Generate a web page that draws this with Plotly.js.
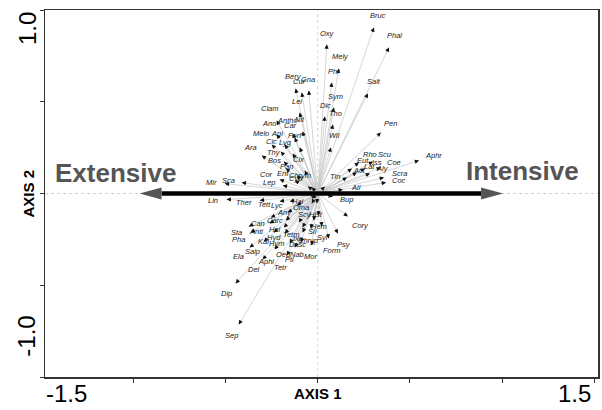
<!DOCTYPE html>
<html><head><meta charset="utf-8">
<script src="https://cdn.plot.ly/plotly-3.0.1.min.js"></script>
<style>html,body{margin:0;padding:0;background:#fff;}#chart{width:602px;height:410px;}</style>
</head><body><div id="chart"></div>
<script>
const species = ['Bruc','Phal','Oxy','Mely','Phi','Gna','Bery','Cur','Salt','Sym','Lei','Dic','Clam','Tho','Antho','Ano','Nit','Pen','Car','Melo','Api','Forf','Cic','Lyg','Wil','Thy','Ara','Rho','Scu','Clx','Aphr','Bos','Eut','Iss','Coe','Pan','Lat','Aly','Cor','Ent','Scra','Act','Sca','Cyd','Tin','Mir','Lep','Coc','Chrym','All','Bup','Lin','Hal','Ther','Tett','Lyc','Oma','Any','Scy','Hist','Carc','Can','Hem','Anti','Sta','Hel','Sil','Syr','Hyd','Tetm','Pha','Ixo','Chryp','Kal','Form','Psy','Cory','Hym','Dasc','Salp','Ela','Oed','Nab','Mor','Aphi','Pti','Del','Tetr','Dip','Sep'];
const axis1 = [0.304,0.386,0.049,0.114,0.076,-0.049,-0.120,-0.087,0.272,0.087,-0.098,0.038,-0.223,0.082,-0.136,-0.223,-0.082,0.342,-0.125,-0.250,-0.179,-0.098,-0.201,-0.136,0.071,-0.185,-0.304,0.223,0.299,-0.071,0.549,-0.174,0.185,0.255,0.342,-0.114,0.212,0.283,-0.207,-0.125,0.359,0.158,-0.413,-0.054,0.038,-0.505,-0.190,0.370,-0.033,0.136,0.082,-0.495,-0.038,-0.315,-0.207,-0.152,-0.033,-0.114,-0.033,-0.005,-0.163,-0.255,0.005,-0.261,-0.375,-0.174,-0.022,0.022,-0.185,-0.103,-0.364,-0.082,-0.038,-0.239,0.060,0.109,0.163,-0.179,-0.082,-0.293,-0.370,-0.152,-0.092,-0.033,-0.234,-0.125,-0.299,-0.168,-0.446,-0.429];
const axis2 = [0.905,0.796,0.812,0.681,0.605,0.561,0.572,0.550,0.545,0.469,0.441,0.420,0.398,0.376,0.327,0.322,0.338,0.332,0.305,0.267,0.267,0.251,0.229,0.218,0.251,0.174,0.207,0.169,0.174,0.125,0.180,0.136,0.136,0.136,0.142,0.098,0.114,0.109,0.076,0.071,0.087,0.087,0.060,0.038,0.038,0.054,0.044,0.060,0.033,0.022,-0.016,-0.033,-0.016,-0.038,-0.044,-0.044,-0.027,-0.065,-0.054,-0.054,-0.104,-0.131,-0.120,-0.163,-0.180,-0.147,-0.147,-0.180,-0.185,-0.158,-0.213,-0.185,-0.191,-0.213,-0.245,-0.218,-0.125,-0.218,-0.213,-0.262,-0.294,-0.272,-0.267,-0.283,-0.305,-0.294,-0.360,-0.338,-0.490,-0.714];

const extensiveEnd = -0.967;
const intensiveEnd = 1.005;
const gradientLabels = ['Extensive','Intensive'];
const xTickLabels = ['-1.5','1.5'];
const yTickLabels = ['1.0','-1.0'];
const axisTitles = ['AXIS 1','AXIS 2'];

const FONT = 'Liberation Sans, Arial, Helvetica, sans-serif';
const W = 602, H = 410, M = {l:45, r:4, t:10, b:33};
const xRange = [-1.48, 1.52], yRange = [-1, 1];
const pxX = (W - M.l - M.r) / (xRange[1] - xRange[0]);
const pxY = (H - M.t - M.b) / (yRange[1] - yRange[0]);

// shafts
const sx = [], sy = [];
species.forEach((s, i) => { sx.push(0, axis1[i], null); sy.push(0, axis2[i], null); });

const traces = [
  {x: sx, y: sy, mode: 'lines', line: {color: '#c4c4c4', width: 0.7}, hoverinfo: 'skip'}
];

// gradient arrow
const headLen = 22 / pxX, headHalf = 6 / pxY;
traces.push({x: [extensiveEnd + headLen, intensiveEnd - headLen], y: [0, 0], mode: 'lines',
  line: {color: '#000', width: 4.5}, hoverinfo: 'skip'});
traces.push({x: [extensiveEnd, extensiveEnd + headLen, extensiveEnd + headLen, extensiveEnd], y: [0, headHalf, -headHalf, 0],
  mode: 'lines', fill: 'toself', fillcolor: '#555', line: {width: 0, color: '#555'}, hoverinfo: 'skip'});
traces.push({x: [intensiveEnd, intensiveEnd - headLen, intensiveEnd - headLen, intensiveEnd], y: [0, headHalf, -headHalf, 0],
  mode: 'lines', fill: 'toself', fillcolor: '#555', line: {width: 0, color: '#555'}, hoverinfo: 'skip'});

const annotations = [];
species.forEach((s, i) => {
  const dx = axis1[i] * pxX, dy = axis2[i] * pxY;
  const L = Math.hypot(dx, dy) || 1;
  const ux = dx / L, uy = dy / L;
  annotations.push({x: axis1[i], y: axis2[i], xref: 'x', yref: 'y', text: '', showarrow: true,
    ax: -ux * 6, ay: uy * 6, arrowhead: 2, arrowsize: 0.85, arrowwidth: 1, arrowcolor: '#111', standoff: 0});
  const w = 4.0 * s.length;
  const d = 7 + Math.abs(ux) * w / 2 + Math.abs(uy) * 3.5;
  annotations.push({x: axis1[i], y: axis2[i], xref: 'x', yref: 'y', text: '<i>' + s + '</i>', showarrow: false,
    xshift: ux * d, yshift: uy * d, xanchor: 'center', yanchor: 'middle',
    font: {family: FONT, size: 7.5, color: '#222'}});
});

annotations.push({x: -1.096, y: 0.114, xref: 'x', yref: 'y', text: '<b>' + gradientLabels[0] + '</b>', showarrow: false,
  xanchor: 'center', yanchor: 'middle', font: {family: FONT, size: 26, color: '#555'}});
annotations.push({x: 1.112, y: 0.125, xref: 'x', yref: 'y', text: '<b>' + gradientLabels[1] + '</b>', showarrow: false,
  xanchor: 'center', yanchor: 'middle', font: {family: FONT, size: 26, color: '#555'}});

// tick labels & axis titles
const base = {xref: 'paper', yref: 'paper', showarrow: false, xanchor: 'center', yanchor: 'middle'};
annotations.push(Object.assign({x: 0.038, y: -0.044, text: xTickLabels[0], font: {family: FONT, size: 24, color: '#000'}}, base));
annotations.push(Object.assign({x: 0.957, y: -0.044, text: xTickLabels[1], font: {family: FONT, size: 24, color: '#000'}}, base));
annotations.push(Object.assign({x: 0.494, y: -0.044, text: '<b>' + axisTitles[0] + '</b>', font: {family: FONT, size: 15, color: '#000'}}, base));
annotations.push(Object.assign({x: -0.0325, y: 0.948, text: yTickLabels[0], textangle: -90, font: {family: FONT, size: 24, color: '#000'}}, base));
annotations.push(Object.assign({x: -0.0325, y: 0.11, text: yTickLabels[1], textangle: -90, font: {family: FONT, size: 24, color: '#000'}}, base));
annotations.push(Object.assign({x: -0.029, y: 0.5, text: '<b>' + axisTitles[1] + '</b>', textangle: -90, font: {family: FONT, size: 15, color: '#000'}}, base));

const layout = {
  width: W, height: H, margin: M, showlegend: false,
  paper_bgcolor: '#fff', plot_bgcolor: '#fff',
  xaxis: {range: xRange, showgrid: false, zeroline: false, showline: true, mirror: true, linecolor: '#333', linewidth: 1.5,
    ticks: 'outside', ticklen: 4, tickcolor: '#333', tickwidth: 1, tickvals: [-1.5, -1, -0.5, 0, 0.5, 1, 1.5], showticklabels: false, fixedrange: true},
  yaxis: {range: yRange, showgrid: false, zeroline: false, showline: true, mirror: true, linecolor: '#333', linewidth: 1.5,
    ticks: 'outside', ticklen: 4, tickcolor: '#333', tickwidth: 1, tickvals: [-1, -0.5, 0, 0.5, 1], showticklabels: false, fixedrange: true},
  shapes: [
    {type: 'line', xref: 'paper', yref: 'y', x0: 0, x1: 1, y0: 0, y1: 0, layer: 'below', line: {color: '#cfcfcf', width: 1, dash: '3px,3px'}},
    {type: 'line', xref: 'x', yref: 'paper', x0: 0, x1: 0, y0: 0, y1: 1, layer: 'below', line: {color: '#cfcfcf', width: 1, dash: '3px,3px'}}
  ],
  annotations: annotations
};
Plotly.newPlot('chart', traces, layout, {displayModeBar: false, staticPlot: true});
</script>
</body></html>
